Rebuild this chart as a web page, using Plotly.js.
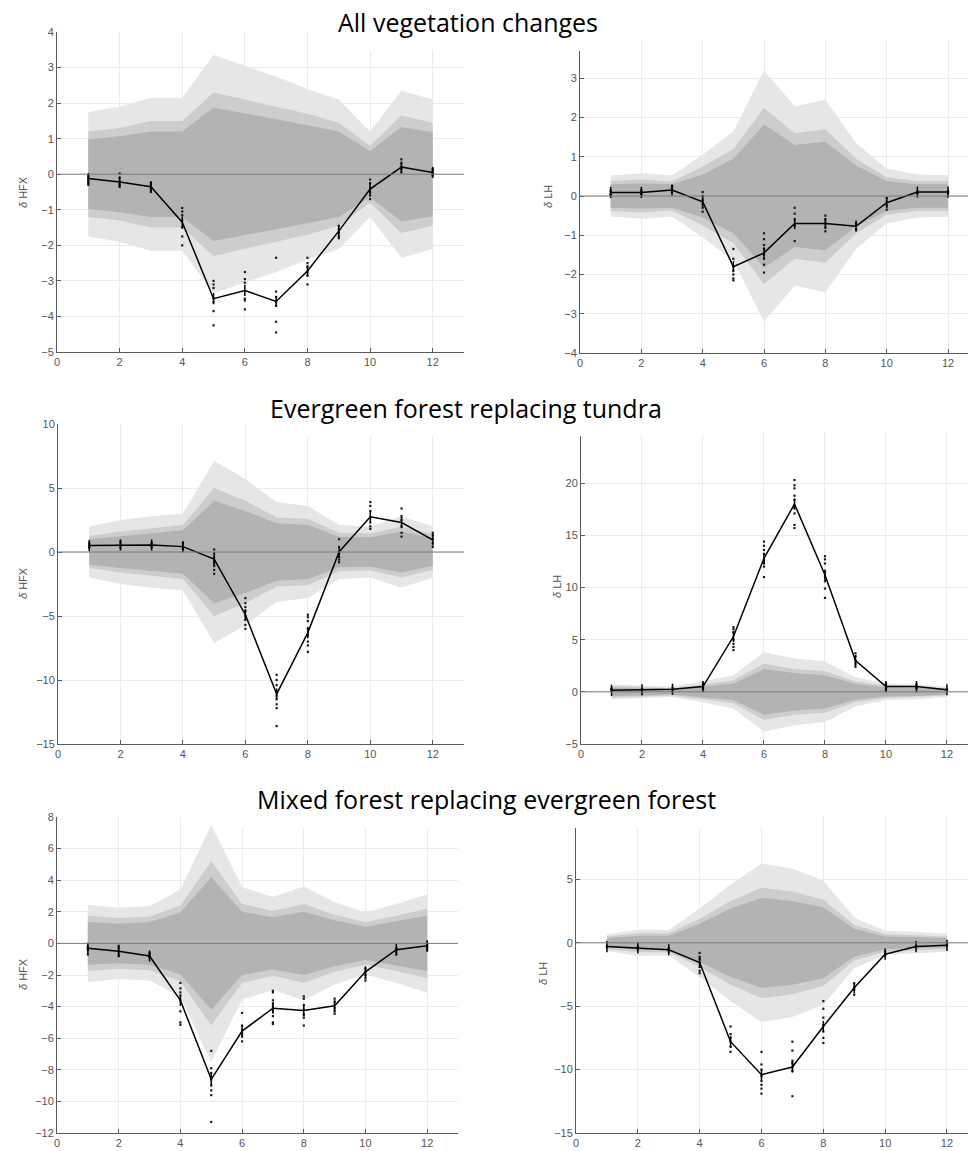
<!DOCTYPE html>
<html>
<head>
<meta charset="utf-8">
<script src="https://cdn.plot.ly/plotly-3.0.1.min.js"></script>
<style>html,body{margin:0;padding:0;background:#fff;}#chart{width:968px;height:1151px;}</style>
</head>
<body>
<div id="chart"></div>
<script>
// ---------------- DATA ----------------
const months = [1,2,3,4,5,6,7,8,9,10,11,12];
const xTicks = [0,2,4,6,8,10,12];
const sectionTitles = ["All vegetation changes", "Evergreen forest replacing tundra", "Mixed forest replacing evergreen forest"];
const yTitles = ["δ HFX", "δ LH", "δ HFX", "δ LH", "δ HFX", "δ LH"];

// y tick values per panel (last one of the right-hand panels is hidden behind the title box)
const p1YTicks = [-5,-4,-3,-2,-1,0,1,2,3,4];
const p2YTicks = [-4,-3,-2,-1,0,1,2,3,4];
const p3YTicks = [-15,-10,-5,0,5,10];
const p4YTicks = [-5,0,5,10,15,20,25];
const p5YTicks = [-12,-10,-8,-6,-4,-2,0,2,4,6,8];
const p6YTicks = [-15,-10,-5,0,5,10];

// Panel 1: All vegetation changes, HFX
const p1Mean   = [-0.12,-0.22,-0.35,-1.35,-3.5,-3.27,-3.58,-2.72,-1.6,-0.42,0.2,0.05];
const p1Outer  = [1.75,1.9,2.15,2.15,3.35,3.05,2.75,2.4,2.1,1.2,2.35,2.1];
const p1Middle = [1.2,1.3,1.5,1.5,2.3,2.1,1.9,1.7,1.45,0.8,1.65,1.45];
const p1Inner  = [0.98,1.07,1.2,1.2,1.88,1.72,1.55,1.38,1.2,0.65,1.33,1.18];
const p1Points = [
  [-0.05,-0.1,-0.15,-0.2,-0.25,-0.3],
  [0.02,-0.1,-0.2,-0.25,-0.3,-0.35],
  [-0.25,-0.3,-0.35,-0.4,-0.45,-0.5],
  [-0.95,-1.05,-1.15,-1.3,-1.5,-1.75,-2.0],
  [-3.0,-3.1,-3.2,-3.5,-3.6,-3.85,-4.25],
  [-2.75,-2.95,-3.05,-3.5,-3.55,-3.8],
  [-2.35,-3.3,-3.45,-3.6,-3.7,-4.15,-4.45],
  [-2.35,-2.5,-2.6,-2.75,-2.85,-3.1],
  [-1.45,-1.55,-1.65,-1.75,-1.8],
  [-0.15,-0.25,-0.4,-0.5,-0.6,-0.7],
  [0.42,0.3,0.2,0.15,0.05],
  [0.15,0.1,0.05,0.0,-0.05]
];

// Panel 2: All vegetation changes, LH
const p2Mean   = [0.09,0.09,0.15,-0.15,-1.8,-1.45,-0.7,-0.7,-0.77,-0.17,0.1,0.1];
const p2Outer  = [0.52,0.58,0.52,1.05,1.65,3.2,2.28,2.45,1.35,0.7,0.55,0.53];
const p2Middle = [0.38,0.42,0.37,0.75,1.2,2.25,1.6,1.7,0.95,0.48,0.38,0.38];
const p2Inner  = [0.3,0.32,0.3,0.55,0.95,1.82,1.3,1.38,0.78,0.38,0.3,0.3];
const p2Points = [
  [0.15,0.1,0.05,0.02],
  [0.15,0.1,0.05,0.03],
  [0.25,0.2,0.15,0.1],
  [0.1,0.0,-0.1,-0.2,-0.3,-0.4],
  [-1.35,-1.6,-1.8,-1.9,-2.0,-2.1,-2.15],
  [-0.95,-1.1,-1.25,-1.35,-1.5,-1.6,-1.75,-1.95],
  [-0.3,-0.45,-0.6,-0.75,-1.15],
  [-0.5,-0.6,-0.7,-0.8,-0.9],
  [-0.7,-0.75,-0.85],
  [-0.05,-0.15,-0.25,-0.35],
  [0.12,0.1,0.07],
  [0.12,0.1,0.07]
];

// Panel 3: Evergreen forest replacing tundra, HFX
const p3Mean   = [0.5,0.55,0.55,0.42,-0.55,-4.9,-11.1,-6.3,0.0,2.75,2.3,0.95];
const p3Outer  = [2.0,2.5,2.8,3.0,7.1,5.7,3.9,3.6,2.1,2.0,2.8,2.0];
const p3Middle = [1.25,1.6,1.85,2.1,5.0,4.0,2.7,2.6,1.5,1.45,2.0,1.4];
const p3Inner  = [1.0,1.25,1.5,1.7,4.0,3.2,2.25,2.1,1.2,1.15,1.6,1.1];
const p3Points = [
  [0.7,0.6,0.5,0.4,0.35],
  [0.8,0.6,0.5,0.35],
  [0.7,0.6,0.45,0.4],
  [0.7,0.5,0.35,0.25],
  [0.2,-0.1,-0.4,-0.7,-0.9,-1.1,-1.4,-1.7],
  [-3.6,-4.0,-4.3,-4.6,-5.0,-5.3,-5.7,-6.0],
  [-9.6,-10.0,-10.4,-10.9,-11.2,-11.5,-11.9,-12.2,-13.6],
  [-4.9,-5.1,-5.4,-6.0,-6.5,-7.0,-7.3,-7.8],
  [1.0,0.4,-0.1,-0.4,-0.6,-0.8],
  [3.9,3.6,3.2,2.7,2.3,2.0,1.8],
  [3.4,2.8,2.5,2.0,1.5,1.2],
  [1.5,1.3,1.0,0.7,0.4]
];

// Panel 4: Evergreen forest replacing tundra, LH
const p4Mean   = [0.15,0.18,0.25,0.5,5.3,12.8,18.0,11.2,3.0,0.5,0.5,0.2];
const p4Outer  = [0.7,0.6,0.5,1.0,1.6,3.8,3.2,2.9,1.4,0.8,0.7,0.5];
const p4Middle = [0.55,0.45,0.35,0.7,1.1,2.7,2.2,2.0,1.0,0.6,0.5,0.35];
const p4Inner  = [0.4,0.35,0.25,0.5,0.8,2.2,1.8,1.6,0.75,0.45,0.4,0.25];
const p4Points = [
  [0.3,0.2,0.1],
  [0.25,0.2,0.1],
  [0.35,0.25,0.2],
  [0.8,0.6,0.4,0.3],
  [6.2,6.0,5.7,5.0,4.6,4.3,4.0],
  [14.4,14.0,13.6,13.2,12.6,12.3,12.0,11.0],
  [20.3,19.8,19.5,18.8,18.4,17.6,17.1,16.0,15.7],
  [13.0,12.7,12.3,11.5,11.0,10.6,9.9,9.0],
  [3.7,3.4,3.0,2.7,2.4],
  [0.8,0.6,0.4,0.2],
  [0.7,0.5,0.35],
  [0.25,0.15]
];

// Panel 5: Mixed forest replacing evergreen forest, HFX
const p5Mean   = [-0.3,-0.5,-0.8,-3.6,-8.6,-5.55,-4.1,-4.25,-3.95,-1.8,-0.4,-0.15];
const p5Outer  = [2.45,2.25,2.35,3.4,7.5,3.55,2.95,3.6,2.6,1.95,2.5,3.1];
const p5Middle = [1.75,1.6,1.7,2.4,5.2,2.5,2.05,2.5,1.8,1.35,1.75,2.2];
const p5Inner  = [1.35,1.25,1.35,1.95,4.2,2.0,1.65,2.0,1.45,1.05,1.4,1.75];
const p5Points = [
  [-0.2,-0.3,-0.4,-0.7],
  [-0.15,-0.3,-0.5,-0.65,-0.8],
  [-0.6,-0.7,-0.8,-0.9],
  [-2.5,-2.85,-3.1,-3.3,-3.6,-4.3,-5.0,-5.15],
  [-6.8,-7.9,-8.2,-8.6,-9.0,-9.3,-9.6,-11.3],
  [-4.4,-5.2,-5.5,-5.7,-5.9,-6.2],
  [-3.0,-3.1,-3.6,-3.8,-4.0,-4.3,-4.6,-5.0,-5.1],
  [-3.35,-3.5,-3.9,-4.2,-4.5,-4.7,-5.2],
  [-3.5,-3.7,-3.9,-4.1,-4.3,-4.45],
  [-1.6,-1.8,-2.0,-2.2,-2.35],
  [-0.3,-0.4,-0.55,-0.7],
  [0.0,-0.1,-0.2,-0.3,-0.45]
];

// Panel 6: Mixed forest replacing evergreen forest, LH
const p6Mean   = [-0.3,-0.4,-0.55,-1.55,-7.8,-10.4,-9.8,-6.6,-3.55,-0.9,-0.3,-0.2];
const p6Outer  = [0.65,1.05,1.0,2.7,4.6,6.25,5.85,4.9,2.0,0.95,0.85,0.7];
const p6Middle = [0.5,0.75,0.75,1.9,3.3,4.35,4.05,3.4,1.4,0.7,0.6,0.5];
const p6Inner  = [0.35,0.55,0.55,1.5,2.7,3.55,3.3,2.8,1.1,0.5,0.45,0.35];
const p6Points = [
  [-0.25,-0.35],
  [-0.3,-0.4,-0.5],
  [-0.4,-0.55,-0.7],
  [-0.8,-1.1,-1.3,-1.6,-1.9,-2.2,-2.4],
  [-6.6,-7.2,-7.5,-7.8,-8.2,-8.6],
  [-8.6,-9.6,-10.0,-10.5,-10.9,-11.2,-11.5,-11.9],
  [-7.8,-8.5,-9.3,-9.5,-9.8,-10.1,-12.1],
  [-4.6,-5.2,-5.9,-6.5,-7.0,-7.5,-7.9],
  [-3.2,-3.5,-3.7,-4.1],
  [-0.7,-0.9,-1.0],
  [-0.25,-0.35],
  [-0.15,-0.25]
];

// ---------------- BUILD ----------------
const W = 968, H = 1151;
const px = v => v / W;
const py = v => 1 - v / H;
const fmt = v => (v < 0 ? '\u2212' + Math.abs(v) : String(v));

const panels = [
  {mean:p1Mean, outer:p1Outer, middle:p1Middle, inner:p1Inner, pts:p1Points, yt:p1YTicks, hideTop:false,
   xd:[57,464], yd:[352,32], xr:[0,13], yr:[-5,4], ytx:23, yty:192},
  {mean:p2Mean, outer:p2Outer, middle:p2Middle, inner:p2Inner, pts:p2Points, yt:p2YTicks, hideTop:true,
   xd:[580,968], yd:[353,39], xr:[0,12.65], yr:[-4,4], ytx:548, yty:197},
  {mean:p3Mean, outer:p3Outer, middle:p3Middle, inner:p3Inner, pts:p3Points, yt:p3YTicks, hideTop:false,
   xd:[58,464], yd:[744,424], xr:[0,13], yr:[-15,10], ytx:23, yty:583},
  {mean:p4Mean, outer:p4Outer, middle:p4Middle, inner:p4Inner, pts:p4Points, yt:p4YTicks, hideTop:true,
   xd:[581,968], yd:[744,431], xr:[0,12.69], yr:[-5,25], ytx:557, yty:587},
  {mean:p5Mean, outer:p5Outer, middle:p5Middle, inner:p5Inner, pts:p5Points, yt:p5YTicks, hideTop:false,
   xd:[57,458], yd:[1133,817], xr:[0,13], yr:[-12,8], ytx:23, yty:974},
  {mean:p6Mean, outer:p6Outer, middle:p6Middle, inner:p6Inner, pts:p6Points, yt:p6YTicks, hideTop:true,
   xd:[576,968], yd:[1133,816], xr:[0,12.68], yr:[-15,10], ytx:543, yty:974}
];

const bandColors = ['#e6e6e6', '#cdcdcd', '#b3b3b3'];
const tickFont = {size: 11, color: '#555555', family: 'Liberation Sans, Arial, sans-serif'};
const traces = [];
const layout = {
  width: W, height: H,
  margin: {l:0, r:0, t:0, b:0},
  paper_bgcolor: '#ffffff',
  plot_bgcolor: 'rgba(0,0,0,0)',
  showlegend: false,
  font: {family: 'Liberation Sans, Arial, sans-serif', size: 11, color: '#555555'},
  shapes: [],
  annotations: []
};

panels.forEach((p, i) => {
  const n = i + 1;
  const xa = 'x' + (n === 1 ? '' : n);
  const ya = 'y' + (n === 1 ? '' : n);
  const xKey = 'xaxis' + (n === 1 ? '' : n);
  const yKey = 'yaxis' + (n === 1 ? '' : n);

  [p.outer, p.middle, p.inner].forEach((half, k) => {
    const bx = months.concat(months.slice().reverse());
    const by = half.concat(half.slice().reverse().map(v => -v));
    traces.push({x: bx, y: by, xaxis: xa, yaxis: ya, type: 'scatter', mode: 'lines',
      fill: 'toself', fillcolor: bandColors[k], line: {width: 0, color: bandColors[k]},
      hoverinfo: 'skip'});
  });

  const sx = [], sy = [];
  p.pts.forEach((arr, m) => arr.forEach(v => { sx.push(months[m]); sy.push(v); }));
  traces.push({x: sx, y: sy, xaxis: xa, yaxis: ya, type: 'scatter', mode: 'markers',
    marker: {symbol: 'square', size: 2.2, color: '#1a1a1a'}});

  traces.push({x: months, y: p.mean, xaxis: xa, yaxis: ya, type: 'scatter', mode: 'lines+markers',
    line: {color: '#000000', width: 1.5},
    marker: {symbol: 'line-ns-open', size: 8, color: '#000000', line: {width: 1.5, color: '#000000'}}});

  const ytext = p.yt.map((v, j) => (p.hideTop && j === p.yt.length - 1) ? '' : fmt(v));

  layout[xKey] = {
    domain: [px(p.xd[0]), px(p.xd[1])], range: p.xr, anchor: ya,
    tickmode: 'array', tickvals: xTicks, ticktext: xTicks.map(String),
    showgrid: true, gridcolor: '#ebebeb', gridwidth: 1,
    zeroline: false, showline: true, linecolor: '#5a5a5a', linewidth: 1,
    ticks: 'inside', ticklen: 4, tickcolor: '#5a5a5a', tickwidth: 1,
    tickfont: tickFont, fixedrange: true
  };
  layout[yKey] = {
    domain: [py(p.yd[0]), py(p.yd[1])], range: p.yr, anchor: xa,
    tickmode: 'array', tickvals: p.yt, ticktext: ytext,
    showgrid: true, gridcolor: '#ebebeb', gridwidth: 1,
    zeroline: false, showline: true, linecolor: '#5a5a5a', linewidth: 1,
    ticks: 'inside', ticklen: 4, tickcolor: '#5a5a5a', tickwidth: 1,
    tickfont: tickFont, fixedrange: true
  };

  layout.shapes.push({type: 'line', xref: xa + ' domain', yref: ya, x0: 0, x1: 1, y0: 0, y1: 0,
    line: {color: '#7a7a7a', width: 1}, layer: 'above'});

  layout.annotations.push({text: yTitles[i].replace('δ', '<i>δ</i>'), xref: 'paper', yref: 'paper',
    x: px(p.ytx), y: py(p.yty), xanchor: 'center', yanchor: 'middle', showarrow: false,
    textangle: -90, font: {size: 11, color: '#555555', family: 'Liberation Sans, Arial, sans-serif'}});
});

// white boxes behind the section titles (as in the composed figure)
const boxes = [[313, 0, 632, 51], [247, 380, 709, 436], [230, 764, 792, 828]];
boxes.forEach(b => layout.shapes.push({type: 'rect', xref: 'paper', yref: 'paper',
  x0: px(b[0]), x1: px(b[2]), y0: py(b[3]), y1: py(b[1]),
  fillcolor: '#ffffff', line: {width: 0}, layer: 'above'}));

const titlePos = [[468, 22], [466, 408], [486, 799]];
sectionTitles.forEach((t, i) => layout.annotations.push({text: t, xref: 'paper', yref: 'paper',
  x: px(titlePos[i][0]), y: py(titlePos[i][1]), xanchor: 'center', yanchor: 'middle', showarrow: false,
  font: {size: 25, color: '#000000', family: 'Open Sans, sans-serif'}}));

Plotly.newPlot('chart', traces, layout, {displayModeBar: false, staticPlot: true});
</script>
</body>
</html>
